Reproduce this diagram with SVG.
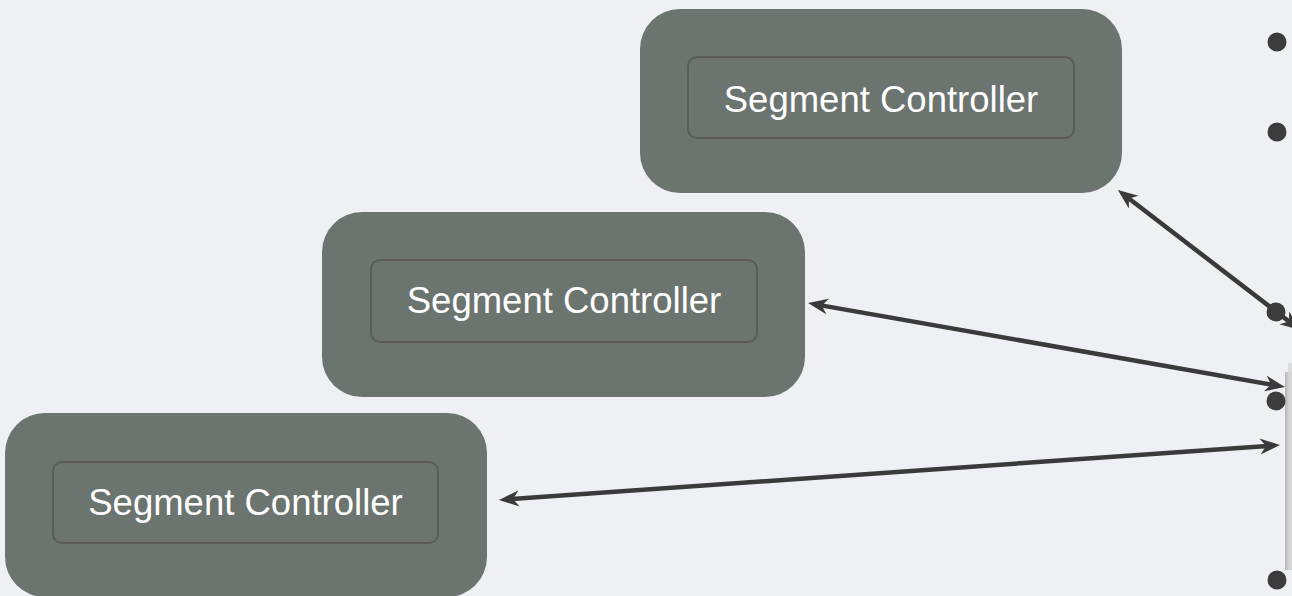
<svg xmlns="http://www.w3.org/2000/svg" width="1292" height="596" viewBox="0 0 1292 596">
  <style>
    .outer { fill: #6b746f; }
    .inner { fill: #6b746f; stroke: #5a5c5b; stroke-width: 2; }
    .label { font-family: "Liberation Sans", Arial, sans-serif; font-size: 36.5px; fill: #ffffff; text-anchor: middle; }
    .conn { stroke: #3a3a3a; stroke-width: 4.5; fill: none; marker-start: url(#arr); marker-end: url(#arr); }
    .bullet { fill: #3c3c3c; }
  </style>
  <defs>
    <marker id="arr" markerUnits="userSpaceOnUse" markerWidth="22" markerHeight="18" refX="11" refY="8" orient="auto-start-reverse" viewBox="0 0 22 18">
      <path d="M0,0 L20,8 L0,16 L6,8 Z" fill="#3a3a3a"/>
    </marker>
    <linearGradient id="strip" x1="0" y1="0" x2="1" y2="0">
      <stop offset="0" stop-color="#b4b5b4"/>
      <stop offset="0.5" stop-color="#d8d9d8"/>
      <stop offset="1" stop-color="#cfd0cf"/>
    </linearGradient>
  </defs>
  <rect x="0" y="0" width="1292" height="596" fill="#eef0f3"/>

  <g id="node-top">
    <rect class="outer" x="640" y="9" width="482" height="184" rx="40" ry="40"/>
    <rect class="inner" x="688" y="57" width="386" height="81" rx="9" ry="9"/>
    <text class="label" x="881" y="112">Segment Controller</text>
  </g>
  <g id="node-middle">
    <rect class="outer" x="322" y="212" width="483" height="185" rx="40" ry="40"/>
    <rect class="inner" x="371" y="260" width="386" height="82" rx="9" ry="9"/>
    <text class="label" x="564" y="313">Segment Controller</text>
  </g>
  <g id="node-bottom">
    <rect class="outer" x="5" y="413" width="482" height="184" rx="40" ry="40"/>
    <rect class="inner" x="53" y="462" width="385" height="81" rx="9" ry="9"/>
    <text class="label" x="245.5" y="515">Segment Controller</text>
  </g>

  <g id="strip-node">
    <rect x="1288" y="363" width="6" height="10" fill="#dcdddc"/>
    <rect x="1285" y="372" width="9" height="198" fill="url(#strip)"/>
  </g>

  <g id="connectors">
    <line class="conn" x1="1125" y1="195.5" x2="1293" y2="324.5"/>
    <line class="conn" x1="816.9" y1="304.6" x2="1276.1" y2="385.4"/>
    <line class="conn" x1="508" y1="499.3" x2="1271" y2="445.7"/>
  </g>

  <g id="bullets">
    <circle class="bullet" cx="1277" cy="42" r="9.5"/>
    <circle class="bullet" cx="1277" cy="132" r="9.5"/>
    <circle class="bullet" cx="1276" cy="312" r="9.5"/>
    <circle class="bullet" cx="1276" cy="401" r="9.5"/>
    <circle class="bullet" cx="1277" cy="580" r="9.5"/>
  </g>
</svg>
